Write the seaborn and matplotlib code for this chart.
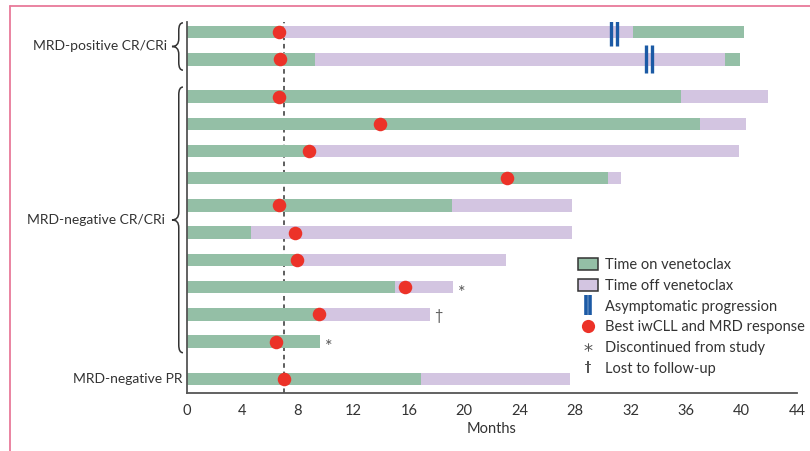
import numpy as np
import pandas as pd
import matplotlib
matplotlib.use('Agg')
import matplotlib.pyplot as plt
import matplotlib.transforms as mtransforms
import seaborn as sns
from matplotlib.path import Path
from matplotlib.patches import Patch, PathPatch
from matplotlib.lines import Line2D

# one row per patient, top to bottom
group = ['MRD-positive CR/CRi'] * 2 + ['MRD-negative CR/CRi'] * 10 + ['MRD-negative PR']
on_end = [7.0, 9.2, 35.6, 37.0, 8.8, 30.4, 19.1, 4.6, 7.9, 15.0, 9.4, 9.6, 16.9]
off_end = [32.2, 38.8, 41.9, 40.3, 39.8, 31.3, 27.8, 27.8, 23.0, 19.2, 17.5, np.nan, 27.6]
retreat_end = [40.2, 39.9] + [np.nan] * 11
best_response = [6.6, 6.7, 6.6, 13.9, 8.8, 23.1, 6.6, 7.8, 7.9, 15.7, 9.5, 6.4, 7.0]
progression = [30.8, 33.3] + [np.nan] * 11
note = [''] * 9 + ['*', '\u2020', '*', '']
median_response = 7.0
xticks = list(range(0, 45, 4))

GREEN = '#94BFA6'
PURPLE = '#D3C5E1'
RED = '#EC3228'
BLUE = '#1C5AA5'
GREY = '#555555'
TEXT = '#333333'
PINK = '#E8799A'

# row positions with a small gap between response groups
ypos = []
offset = 0.0
for i, g in enumerate(group):
    if i > 0 and g != group[i - 1]:
        offset += 0.37
    ypos.append(i + offset)

df = pd.DataFrame({'y': ypos, 'on': on_end, 'off': off_end, 're': retreat_end,
                   'best': best_response, 'prog': progression, 'note': note, 'group': group})

sns.set_style('white')
plt.rcParams['font.family'] = ['Lato', 'DejaVu Sans']
plt.rcParams['text.color'] = TEXT

fig = plt.figure(figsize=(8.1, 4.51), dpi=100)
ax = fig.add_axes([187 / 810, 1 - 393 / 451, 610 / 810, 371 / 451])

bar_w = 0.46
# last layer first: retreatment (green), then time off (purple), then first time on (green)
sns.barplot(data=df.dropna(subset=['re']), x='re', y='y', orient='y', native_scale=True,
            color=GREEN, saturation=1, width=bar_w, errorbar=None, linewidth=0, ax=ax)
sns.barplot(data=df.dropna(subset=['off']), x='off', y='y', orient='y', native_scale=True,
            color=PURPLE, saturation=1, width=bar_w, errorbar=None, linewidth=0, ax=ax)
sns.barplot(data=df, x='on', y='y', orient='y', native_scale=True,
            color=GREEN, saturation=1, width=bar_w, errorbar=None, linewidth=0, ax=ax)

ax.axvline(median_response, color='#333333', ls=(0, (3, 2.5)), lw=1.1, zorder=0.5)

sns.scatterplot(data=df, x='best', y='y', color=RED, s=95, linewidth=0, zorder=5, ax=ax, legend=False)

# double bar marker for progression
bars_marker = Path([(-0.22, -1), (-0.22, 1), (0.22, -1), (0.22, 1)],
                   [Path.MOVETO, Path.LINETO, Path.MOVETO, Path.LINETO])
prog = df.dropna(subset=['prog'])
ax.plot(prog['prog'], prog['y'], ls='none', marker=bars_marker, ms=19.5,
        mec=BLUE, mfc='none', mew=2.4, zorder=6)

# footnote symbols
for _, r in df[df['note'] != ''].iterrows():
    end = np.nanmax([r['on'], r['off'], r['re']])
    sym_size = 13 if r['note'] == '*' else 10.5
    ax.text(end + 0.35, r['y'] + (0.2 if r['note'] == '*' else 0.05), r['note'],
            va='center', ha='left', fontsize=sym_size, color=GREY)

ax.set_xlim(0, 44)
ax.set_ylim(ypos[-1] + 0.52, -0.37)
ax.set_xticks(xticks)
ax.set_yticks([])
ax.set_ylabel('')
ax.set_xlabel('Months', fontsize=10.5, color=TEXT, labelpad=3)
ax.tick_params(axis='x', direction='out', length=5, width=1.1, color=GREY,
               labelsize=10.5, labelcolor=TEXT, pad=3)
sns.despine(ax=ax)
for s in ['left', 'bottom']:
    ax.spines[s].set_color(GREY)
    ax.spines[s].set_linewidth(1.3)

# group labels with curly braces
trans = mtransforms.blended_transform_factory(ax.transAxes, ax.transData)


def brace(y0, y1):
    xa, xb, xt = -0.0066, -0.0135, -0.0246
    r = 0.28
    ym = (y0 + y1) / 2
    verts = [(xa, y0), (xb, y0), (xb, y0 + r),
             (xb, ym - r),
             (xb, ym), (xt, ym),
             (xb, ym), (xb, ym + r),
             (xb, y1 - r),
             (xb, y1), (xa, y1)]
    codes = [Path.MOVETO, Path.CURVE3, Path.CURVE3,
             Path.LINETO,
             Path.CURVE3, Path.CURVE3,
             Path.CURVE3, Path.CURVE3,
             Path.LINETO,
             Path.CURVE3, Path.CURVE3]
    ax.add_patch(PathPatch(Path(verts, codes), transform=trans, fill=False,
                           edgecolor='#333333', lw=1.1, clip_on=False))


brace(-0.34, 1.40)
brace(2.02, 11.78)
ax.text(-0.033, 0.5, 'MRD-positive CR/CRi', transform=trans, ha='right', va='center', fontsize=10)
ax.text(-0.036, (2.02 + 11.78) / 2, 'MRD-negative CR/CRi', transform=trans, ha='right', va='center', fontsize=10)
ax.text(-0.007, ypos[-1], 'MRD-negative PR', transform=trans, ha='right', va='center', fontsize=10)

handles = [
    Patch(facecolor=GREEN, edgecolor='#333333', lw=1.1),
    Patch(facecolor=PURPLE, edgecolor='#333333', lw=1.1),
    Line2D([], [], ls='none', marker=bars_marker, ms=14, mec=BLUE, mfc='none', mew=2.6),
    Line2D([], [], ls='none', marker='o', ms=9.5, color=RED, mew=0),
    Line2D([], [], ls='none', marker='$*$', ms=6, color=GREY, mew=0),
    Line2D([], [], ls='none', marker='$\\dagger$', ms=8, color=GREY, mew=0),
]
labels = ['Time on venetoclax', 'Time off venetoclax', 'Asymptomatic progression',
          'Best iwCLL and MRD response', 'Discontinued from study', 'Lost to follow-up']
fig.legend(handles, labels, loc='upper left', bbox_to_anchor=(578 / 810, 1 - 258 / 451),
           frameon=False, fontsize=10.5, handlelength=1.4, handleheight=0.9,
           handletextpad=0.45, labelspacing=0.46, borderpad=0, borderaxespad=0)

# pink frame of the figure panel
fig.add_artist(Line2D([10 / 810, 1], [1 - 6 / 451, 1 - 6 / 451], transform=fig.transFigure, color=PINK, lw=1.3))
fig.add_artist(Line2D([10 / 810, 10 / 810], [0, 1 - 6 / 451], transform=fig.transFigure, color=PINK, lw=1.3))

fig.savefig('out.png', dpi=100)
